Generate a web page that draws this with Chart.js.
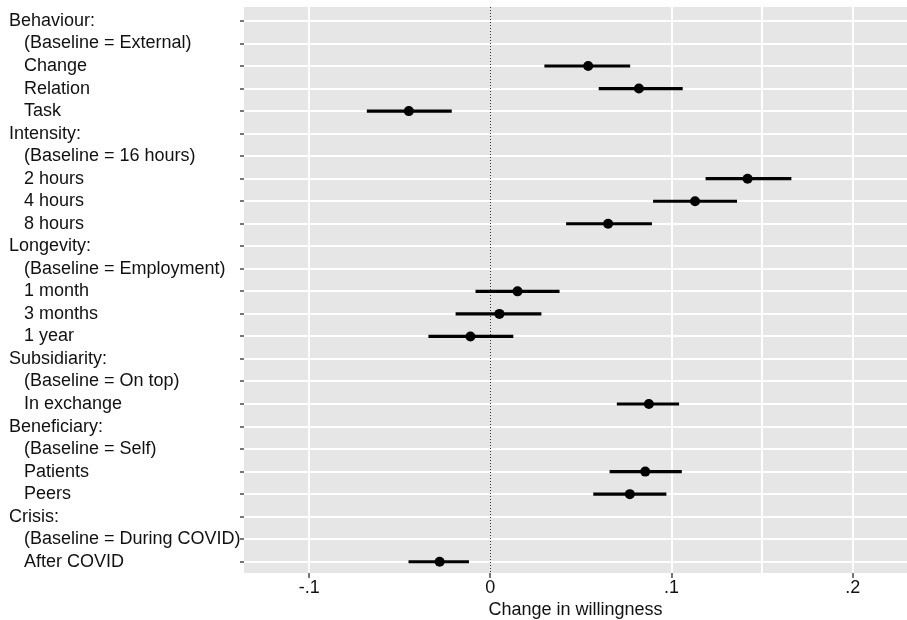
<!DOCTYPE html>
<html>
<head>
<meta charset="utf-8">
<script src="https://cdn.jsdelivr.net/npm/chart.js@4/dist/chart.umd.min.js"></script>
<style>
  html, body { margin: 0; padding: 0; background: #fff; }
  #wrap { width: 907px; height: 620px; }
</style>
</head>
<body>
<div id="wrap"><canvas id="chart" width="907" height="620"></canvas></div>
<script>
// rows, top to bottom ("   " = indented item)
const rowLabels = [
    'Behaviour:', '   (Baseline = External)', '   Change', '   Relation', '   Task',
    'Intensity:', '   (Baseline = 16 hours)', '   2 hours', '   4 hours', '   8 hours',
    'Longevity:', '   (Baseline = Employment)', '   1 month', '   3 months', '   1 year',
    'Subsidiarity:', '   (Baseline = On top)', '   In exchange',
    'Beneficiary:', '   (Baseline = Self)', '   Patients', '   Peers',
    'Crisis:', '   (Baseline = During COVID)', '   After COVID'
];

// point estimates and 95% CI, null for header / baseline rows
const estimate = [
    null, null, 0.054, 0.082, -0.045,
    null, null, 0.142, 0.113, 0.065,
    null, null, 0.015, 0.005, -0.011,
    null, null, 0.0875,
    null, null, 0.0855, 0.077,
    null, null, -0.028
];
const ciLow = [
    null, null, 0.030, 0.060, -0.068,
    null, null, 0.119, 0.090, 0.042,
    null, null, -0.008, -0.019, -0.034,
    null, null, 0.070,
    null, null, 0.066, 0.057,
    null, null, -0.045
];
const ciHigh = [
    null, null, 0.077, 0.106, -0.0215,
    null, null, 0.166, 0.136, 0.089,
    null, null, 0.038, 0.028, 0.0125,
    null, null, 0.104,
    null, null, 0.1055, 0.097,
    null, null, -0.012
];

const xTickValues = [-0.1, 0, 0.1, 0.2];
const xTickLabels = ['-.1', '0', '.1', '.2'];
const xGridValues = [-0.1, 0.1, 0.15, 0.2];

const FONT = "'Liberation Sans', Arial, sans-serif";
const same = (a, b) => Math.abs(a - b) < 1e-9;

// gray panel + dotted zero line
const panelPlugin = {
    id: 'panel',
    beforeDraw(chart) {
        const { ctx, chartArea: a } = chart;
        ctx.save();
        ctx.fillStyle = '#e6e6e6';
        ctx.fillRect(a.left, a.top, a.right - a.left, a.bottom - a.top);
        ctx.restore();
    },
    beforeDatasetsDraw(chart) {
        const { ctx, chartArea: a, scales } = chart;
        const x0 = Math.round(scales.x.getPixelForValue(0)) + 0.5;
        ctx.save();
        ctx.strokeStyle = '#333';
        ctx.lineWidth = 1;
        ctx.setLineDash([1, 2]);
        ctx.beginPath();
        ctx.moveTo(x0, a.top);
        ctx.lineTo(x0, a.bottom);
        ctx.stroke();
        ctx.restore();
    }
};

const ciData = [];
const pointData = [];
rowLabels.forEach((_, i) => {
    if (estimate[i] === null) return;
    ciData.push({ x: [ciLow[i], ciHigh[i]], y: i });
    pointData.push({ x: estimate[i], y: i });
});

new Chart(document.getElementById('chart').getContext('2d'), {
    type: 'bar',
    data: {
        datasets: [
            {
                label: 'CI',
                data: ciData,
                backgroundColor: '#000',
                barThickness: 2.5,
                grouped: false,
                order: 2
            },
            {
                type: 'line',
                label: 'Estimate',
                data: pointData,
                showLine: false,
                pointRadius: 5,
                pointBackgroundColor: '#000',
                pointBorderColor: '#000',
                pointBorderWidth: 0,
                order: 1
            }
        ]
    },
    options: {
        indexAxis: 'y',
        responsive: false,
        animation: false,
        layout: { autoPadding: false, padding: { top: 7, left: 9, right: 0, bottom: 1 } },
        plugins: {
            legend: { display: false },
            tooltip: { enabled: false }
        },
        scales: {
            y: {
                type: 'linear',
                reverse: true,
                offset: false,
                min: -0.62,
                max: 24.5,
                border: { display: false },
                afterBuildTicks(scale) {
                    scale.ticks = rowLabels.map((_, i) => ({ value: i }));
                },
                grid: {
                    offset: false,
                    color: '#ffffff',
                    lineWidth: 2,
                    tickColor: '#777',
                    tickLength: 4,
                    drawTicks: true
                },
                ticks: {
                    crossAlign: 'far',
                    autoSkip: false,
                    padding: 0,
                    color: '#111',
                    font: { family: FONT, size: 18, lineHeight: 0.6 },
                    callback: value => rowLabels[value]
                },
                afterFit(scale) { scale.width = 235; }
            },
            x: {
                type: 'linear',
                min: -0.136,
                max: 0.23,
                border: { display: false },
                afterBuildTicks(scale) {
                    const vals = [...new Set([...xTickValues, ...xGridValues])].sort((a, b) => a - b);
                    scale.ticks = vals.map(v => ({ value: v }));
                },
                grid: {
                    color: ctx => xGridValues.some(v => same(v, ctx.tick.value)) ? '#ffffff' : 'rgba(0,0,0,0)',
                    lineWidth: 2,
                    tickColor: ctx => xTickValues.some(v => same(v, ctx.tick.value)) ? '#777' : 'rgba(0,0,0,0)',
                    tickLength: 5
                },
                ticks: {
                    padding: 1,
                    color: '#111',
                    maxRotation: 0,
                    font: { family: FONT, size: 18, lineHeight: 1 },
                    callback: function(value) {
                        const i = xTickValues.findIndex(v => same(v, value));
                        return i >= 0 ? xTickLabels[i] : '';
                    }
                },
                title: {
                    display: true,
                    text: 'Change in willingness',
                    color: '#111',
                    font: { family: FONT, size: 18, lineHeight: 1 },
                    padding: { top: 3, bottom: 0 }
                }
            }
        }
    },
    plugins: [panelPlugin]
});
</script>
</body>
</html>
